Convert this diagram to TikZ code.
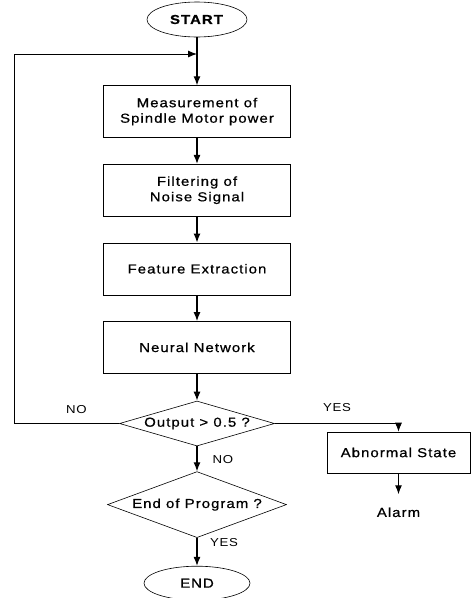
\documentclass[tikz,border=0pt]{standalone}
\usepackage{fontspec}
\setmainfont{Liberation Sans}[FakeStretch=1.15,LetterSpace=8,FakeBold=0.7]
\newfontfamily\lblfont{Liberation Sans}[FakeStretch=1.15,LetterSpace=6]
\usetikzlibrary{shapes.geometric}
\usetikzlibrary{arrows.meta}
\usetikzlibrary{positioning}
\tikzset{
  flow/.style={-{Latex[length=9pt,width=7pt]},line width=1.2pt},
  term/.style={ellipse,draw,line width=0.6pt,minimum width=100pt,
    minimum height=35pt,inner sep=0pt},
  proc/.style={rectangle,draw,line width=0.6pt,align=center,node distance=26pt,
    minimum width=#1,minimum height=52pt,inner sep=0pt},
  proc/.default=187pt,
  test/.style={diamond,draw,line width=0.6pt,inner sep=0pt},
  lbl/.style={font=\lblfont\fontsize{11.5}{13}\selectfont,inner sep=0pt}
}

\begin{document}
\begin{tikzpicture}[x=1pt,y=1pt,font=\fontsize{13}{15.5}\selectfont]
  \useasboundingbox (0,0) rectangle (474,-598);
  \node (start) [term] at (197,-19.5) {\textbf{START}};
  \node (meas) [proc,below=48pt of start] {Measurement of\\Spindle Motor power};
  \node (filt) [proc,below=of meas] {Filtering of\\Noise Signal};
  \node (feat) [proc,below=of filt] {Feature Extraction};
  \node (neur) [proc,below=of feat] {Neural Network};
  \node (out) [test,aspect=3.4,minimum width=155pt,minimum height=45pt,
    below=27pt of neur] {Output > 0.5 ?};
  \node (prog) [test,aspect=2.7,minimum width=179pt,minimum height=66pt,
    below=25pt of out] {End of Program ?};
  \node (endn) [term,minimum width=106pt,minimum height=34pt,below=28pt of prog] {END};
  \node (abn) [proc=143pt,minimum height=41pt] at (398.5,-452.5) {Abnormal State};
  \node (alarm) [below=21pt of abn,inner ysep=13pt,inner xsep=0pt] {Alarm};
  % branch labels
  \node (no1) [lbl] at (76.5,-410) {NO};
  \node (yes1) [lbl] at (337,-408) {YES};
  \node (no2) [lbl] at (223,-459.5) {NO};
  \node (yes2) [lbl] at (224,-542.5) {YES};
  % connectors
  \coordinate (back) at (14,-54);
  \coordinate (join) at (start.south |- back);
  \draw[flow] (start) -- (meas);
  \draw[flow] (meas) -- (filt);
  \draw[flow] (filt) -- (feat);
  \draw[flow] (feat) -- (neur);
  \draw[flow] (neur) -- (out);
  \draw[flow,line width=0.9pt] (out.west) -| (back) -- (join);
  \draw[flow,line width=0.9pt] (out.east) -| (abn.north);
  \draw[flow] (abn) -- (alarm);
  \draw[flow] (out) -- (prog);
  \draw[flow] (prog) -- (endn);
\end{tikzpicture}
\end{document}
